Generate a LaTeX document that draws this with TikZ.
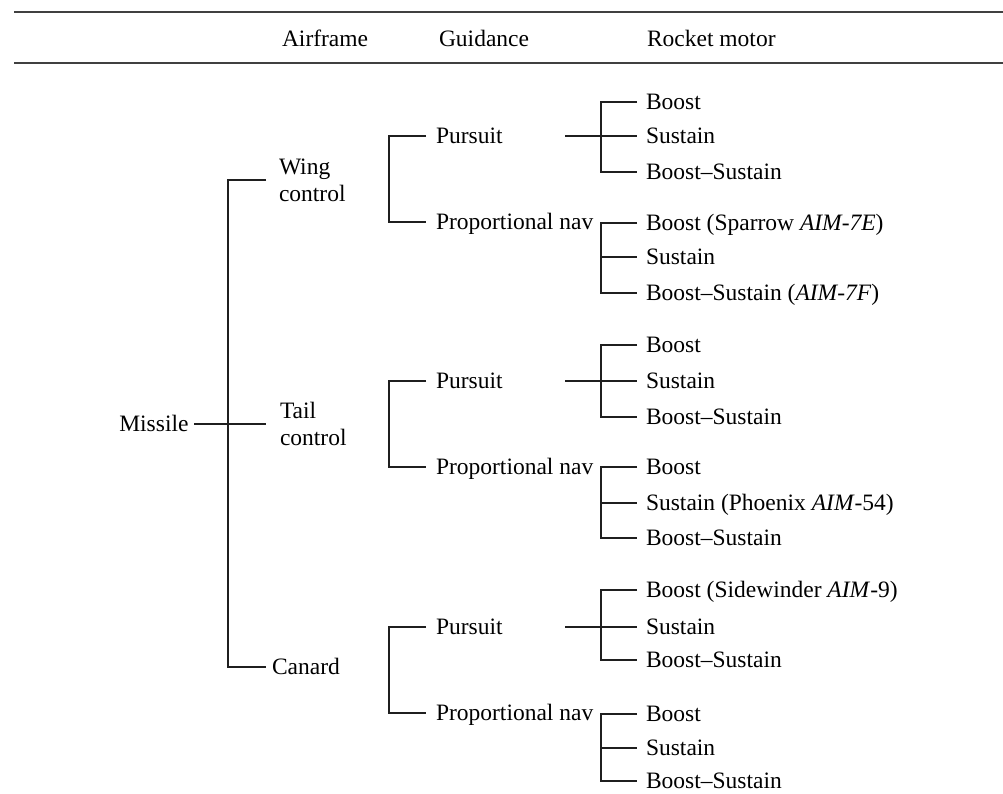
\documentclass[tikz,border=0pt]{standalone}
\usepackage{fontspec}
\setmainfont{Liberation Serif}
\begin{document}
\begin{tikzpicture}[x=1pt,y=-1pt,
  lab/.style={font=\fontsize{23.5}{27}\selectfont, inner sep=0pt, outer sep=0pt,
              anchor=west, text height=15.6pt, text depth=0pt},
  twoline/.style={font=\fontsize{23.5}{27}\selectfont, inner sep=0pt, outer sep=0pt,
              anchor=west, align=left},
  conn/.style={line width=1.5pt, black!88},
  rule/.style={line width=1.6pt, black!75}]
\useasboundingbox (0,0) rectangle (1003,793);

% table head
\draw[rule] (14,12) -- (1003,12);
\draw[rule] (14,63) -- (1003,63);
\node[lab] (hA) at (282,38.5) {Airframe};
\node[lab] (hG) at (439,38.5) {Guidance};
\node[lab] (hR) at (647,38.5) {Rocket motor};

% root and airframe level
\node[lab, anchor=east] (missile) at (188.5,424) {Missile};
\node[twoline] (wing) at (279,180) {Wing\\control};
\node[twoline] (tail) at (280,424) {Tail\\control};
\node[lab] (canard) at (272,667) {Canard};
\coordinate (afbar) at (228,424);

\draw[conn] ([xshift=5.5pt]missile.east) -- ([xshift=-14pt]tail.west);
\draw[conn] ([xshift=-13pt]wing.west) -| (afbar) |- ([xshift=-6pt]canard.west);

% guidance level
\node[lab] (p1) at (436,136) {Pursuit};
\node[lab] (n1) at (436,222) {Proportional nav};
\node[lab] (p2) at (436,381) {Pursuit};
\node[lab] (n2) at (436,467) {Proportional nav};
\node[lab] (p3) at (436,627) {Pursuit};
\node[lab] (n3) at (436,713) {Proportional nav};

\foreach \a/\b in {p1/n1, p2/n2, p3/n3}
  \draw[conn] ([xshift=-10pt]\a.west) -- ++(-37,0) |- ([xshift=-10pt]\b.west);

% rocket motor level
\node[lab] (p1a) at (646,102) {Boost};
\node[lab] (p1b) at (646,136) {Sustain};
\node[lab] (p1c) at (646,172) {Boost–Sustain};
\node[lab] (n1a) at (646,223) {Boost (Sparrow \textit{AIM-7E})};
\node[lab] (n1b) at (646,257) {Sustain};
\node[lab] (n1c) at (646,293) {Boost–Sustain (\textit{AIM-7F})};

\node[lab] (p2a) at (646,345) {Boost};
\node[lab] (p2b) at (646,381) {Sustain};
\node[lab] (p2c) at (646,417) {Boost–Sustain};
\node[lab] (n2a) at (646,467) {Boost};
\node[lab] (n2b) at (646,503) {Sustain (Phoenix \textit{AIM}-54)};
\node[lab] (n2c) at (646,538) {Boost–Sustain};

\node[lab] (p3a) at (646,590) {Boost (Sidewinder \textit{AIM}-9)};
\node[lab] (p3b) at (646,627) {Sustain};
\node[lab] (p3c) at (646,660) {Boost–Sustain};
\node[lab] (n3a) at (646,714) {Boost};
\node[lab] (n3b) at (646,748) {Sustain};
\node[lab] (n3c) at (646,781) {Boost–Sustain};

% brackets fed by a pursuit branch: stem runs through the bracket
\foreach \g in {p1, p2, p3} {
  \draw[conn] ([xshift=-9pt]\g a.west) -- ++(-36,0) |- ([xshift=-9pt]\g c.west);
  \draw[conn] ([xshift=-81pt]\g b.west) -- ([xshift=-9pt]\g b.west);
}
% brackets fed by a proportional-nav branch
\foreach \g in {n1, n2, n3} {
  \draw[conn] ([xshift=-9pt]\g a.west) -- ++(-36,0) |- ([xshift=-9pt]\g c.west);
  \draw[conn] ([xshift=-45pt]\g b.west) -- ([xshift=-9pt]\g b.west);
}
\end{tikzpicture}
\end{document}
